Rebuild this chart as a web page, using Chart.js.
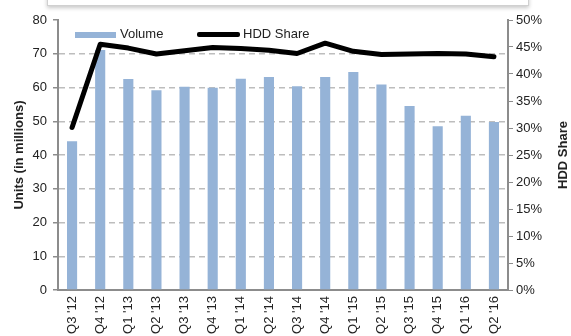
<!DOCTYPE html>
<html>
<head>
<meta charset="utf-8">
<script src="https://cdn.jsdelivr.net/npm/chart.js@4.4.0/dist/chart.umd.min.js"></script>
<style>
    html, body { margin: 0; padding: 0; background: #fff; }
    #wrap { position: relative; width: 571px; height: 336px; overflow: hidden; font-family: "Liberation Sans", Arial, sans-serif; }
    #topBox { position: absolute; left: 47px; top: -12px; width: 480px; height: 16px; background: #fff; border: 1px solid #d0d0d0; box-shadow: 0 2px 4px rgba(0,0,0,0.22); }
    #legend { position: absolute; top: 26px; left: 75px; font-size: 13px; color: #222; }
    .item { position: absolute; top: 0; white-space: nowrap; line-height: 15px; }
    .swatch { display: inline-block; vertical-align: middle; margin-right: 4px; }
</style>
</head>
<body>
<div id="wrap">
    <canvas id="chart" width="571" height="336"></canvas>
    <div id="topBox"></div>
    <div id="legend">
        <div class="item" style="left:0"><span class="swatch" style="width:41px;height:6px;background:#95b3d7;"></span>Volume</div>
        <div class="item" style="left:122px"><span class="swatch" style="width:43px;height:5px;background:#000;border-radius:2px;margin-right:3px;"></span>HDD Share</div>
    </div>
</div>
<script>
const quarters = ["Q3 '12", "Q4 '12", "Q1 '13", "Q2 '13", "Q3 '13", "Q4 '13", "Q1 '14", "Q2 '14",
    "Q3 '14", "Q4 '14", "Q1 '15", "Q2 '15", "Q3 '15", "Q4 '15", "Q1 '16", "Q2 '16"];
const volume = [44.1, 71.1, 62.5, 59.2, 60.2, 59.9, 62.6, 63.1, 60.4, 63.1, 64.6, 60.9, 54.5, 48.5, 51.6, 49.8];
const hddShare = [30.1, 45.5, 44.8, 43.7, 44.3, 44.9, 44.7, 44.4, 43.8, 45.7, 44.2, 43.6, 43.7, 43.8, 43.7, 43.2];

const axisColor = '#8c8c8c';
const textColor = '#222';
const fontFamily = '"Liberation Sans", Arial, sans-serif';
const tickFont = { family: fontFamily, size: 13 };
const titleFont = { family: fontFamily, size: 13, weight: 'bold' };

// right axis title reads bottom-to-top in the original
const rightTitle = {
    id: 'rightTitle',
    afterDraw(chart) {
        const c = chart.ctx;
        const area = chart.chartArea;
        c.save();
        c.translate(563, (area.top + area.bottom) / 2);
        c.rotate(-Math.PI / 2);
        c.font = 'bold 13px ' + fontFamily;
        c.fillStyle = textColor;
        c.textAlign = 'center';
        c.textBaseline = 'middle';
        c.fillText('HDD Share', 0, 0);
        c.restore();
    }
};

const ctx = document.getElementById('chart').getContext('2d');
new Chart(ctx, {
    data: {
        labels: quarters,
        datasets: [
            {
                type: 'line',
                label: 'HDD Share',
                data: hddShare,
                yAxisID: 'y1',
                borderColor: '#000',
                borderWidth: 5,
                pointRadius: 0,
                tension: 0,
                borderCapStyle: 'round',
                borderJoinStyle: 'round',
                order: 0
            },
            {
                type: 'bar',
                label: 'Volume',
                data: volume,
                yAxisID: 'y',
                backgroundColor: '#95b3d7',
                barPercentage: 0.36,
                categoryPercentage: 1,
                order: 1
            }
        ]
    },
    plugins: [rightTitle],
    options: {
        responsive: false,
        animation: false,
        layout: { padding: { top: 20 } },
        plugins: {
            legend: { display: false },
            tooltip: { enabled: false }
        },
        scales: {
            x: {
                grid: { display: false, drawTicks: false },
                border: { color: axisColor, width: 2 },
                ticks: { color: textColor, font: tickFont, minRotation: 90, maxRotation: 90, padding: 6, autoSkip: false },
                afterFit: (scale) => { scale.height = 46; }
            },
            y: {
                position: 'left',
                min: 0,
                max: 80,
                ticks: { stepSize: 10, color: textColor, font: tickFont, padding: 6 },
                grid: {
                    color: (c) => (c.tick && (c.tick.value === 0 || c.tick.value === 80)) ? 'rgba(0,0,0,0)' : '#bdbdbd',
                    lineWidth: 1.5,
                    tickColor: axisColor,
                    tickLength: 5,
                    tickBorderDash: []
                },
                border: { color: axisColor, width: 2, dash: [6, 4] },
                title: { display: true, text: 'Units (in millions)', color: textColor, font: titleFont, padding: { top: 12, bottom: 0 } },
                afterFit: (scale) => { scale.width = 58; }
            },
            y1: {
                position: 'right',
                min: 0,
                max: 50,
                ticks: { stepSize: 5, color: textColor, font: tickFont, padding: 3, callback: (v) => v + '%' },
                grid: { drawOnChartArea: false, tickColor: axisColor, tickLength: 5 },
                border: { color: axisColor, width: 2 },
                afterFit: (scale) => { scale.width = 63; }
            }
        }
    }
});
</script>
</body>
</html>
